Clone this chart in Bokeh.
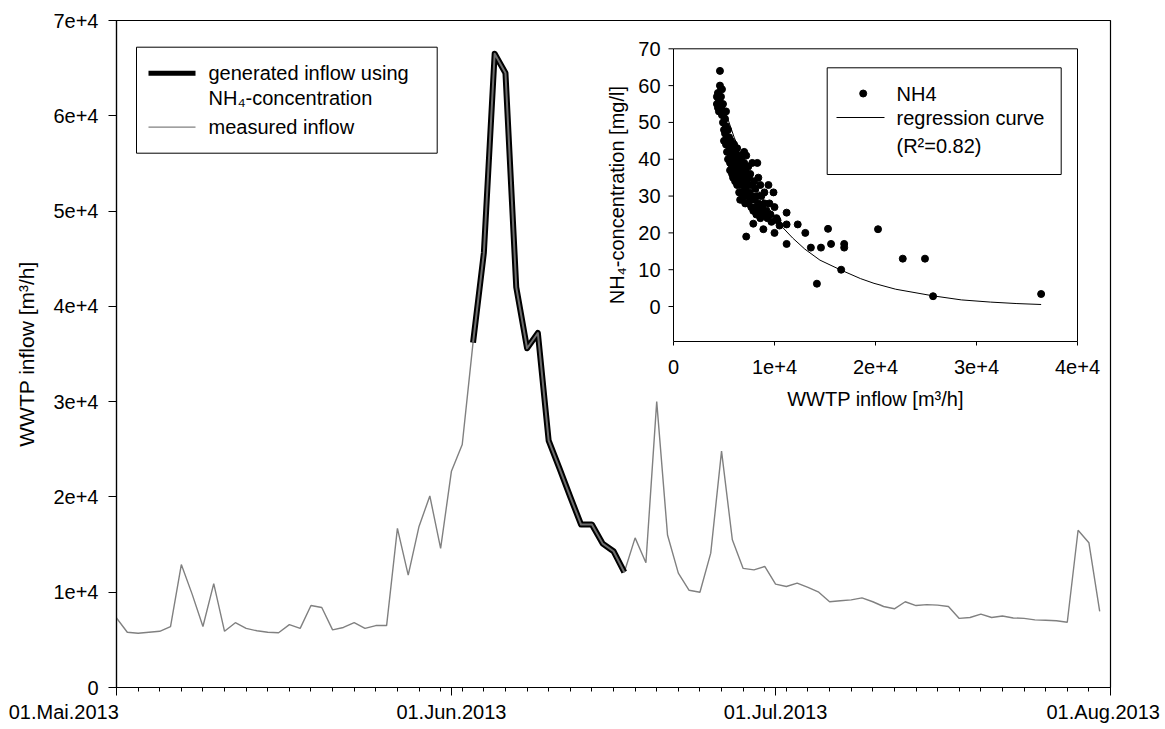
import numpy as np
import pandas as pd
from bokeh.plotting import figure
from bokeh.models import Range1d, FixedTicker
from bokeh.core.properties import value
from bokeh.embed import file_html
from bokeh.resources import INLINE

# ---------------- data ----------------
start_date = "2013-05-01"
# daily WWTP inflow [m3/h], 01.05.2013 - 31.07.2013
inflow = [7300, 5800, 5700, 5800, 5900, 6400, 12900, 9800, 6400, 10900,
          5900, 6800, 6200, 5950, 5800, 5750, 6600, 6200, 8600, 8400,
          6050, 6300, 6800, 6200, 6500, 6500, 16700, 11800, 16900, 20100,
          14600, 22700, 25500, 36200, 45600, 66500, 64500, 42000, 35600, 37200,
          25900, 23000, 20000, 17100, 17100, 15100, 14300, 12100, 15700, 13100,
          30000, 16000, 12000, 10200, 10000, 14100, 24800, 15500, 12500, 12350,
          12700, 10850, 10600, 10950, 10500, 10000, 9000, 9100, 9200, 9400,
          9000, 8500, 8260, 9000, 8600, 8700, 8650, 8500, 7250, 7350,
          7700, 7350, 7500, 7300, 7250, 7100, 7050, 7000, 6850, 16500,
          15200, 8000]
generated_start = "2013-06-03"
generated_end = "2013-06-17"

tick_dates = ["2013-05-01", "2013-06-01", "2013-07-01", "2013-08-01"]
tick_labels = ["01.Mai.2013", "01.Jun.2013", "01.Jul.2013", "01.Aug.2013"]
y_ticks = [0, 10000, 20000, 30000, 40000, 50000, 60000, 70000]
y_tick_labels = ["0", "1e+4", "2e+4", "3e+4", "4e+4", "5e+4", "6e+4", "7e+4"]

# inset scatter: WWTP inflow vs NH4 concentration
nh4_inflow = [4300, 4300, 4400, 4400, 4500, 4500, 4600, 4600, 4700, 4700, 4800, 4800, 4900, 4900,
              5000, 5000, 5000, 5100, 5100, 5200, 5200, 5200, 5300, 5300, 5400, 5400, 5400, 5500, 5500,
              5600, 5600, 5600, 5700, 5700, 5800, 5800, 5800, 5900, 5900, 6000, 6000, 6000, 6100, 6100, 6100,
              6200, 6200, 6300, 6300, 6300, 6400, 6400, 6500, 6500, 6500, 6600, 6600, 6600, 6700, 6700,
              6800, 6800, 6800, 6900, 6900, 7000, 7000, 7000, 7000, 7100, 7100, 7100, 7200, 7200, 7200, 7300, 7300,
              7400, 7400, 7400, 7500, 7500, 7600, 7600, 7700, 7700, 7800, 7800, 7900, 7900, 8000, 8000,
              8100, 8200, 8200, 8300, 8300, 8400, 8400, 8500, 8600, 8600, 8700, 8800, 8900, 8900, 9000, 9000,
              9200, 9300, 9400, 9500, 9600, 9700, 9900, 10000, 10000, 10200, 10300, 10500,
              11200, 11200, 11200, 12300, 13050, 13600, 14200, 14600, 15300, 15600, 16600, 16900, 16900,
              20250, 22700, 24900, 25700, 36400]
nh4_conc = [55, 57, 54, 58, 53, 56, 64, 60, 57, 54, 59, 52, 55, 50,
            53, 48, 45, 51, 47, 53, 49, 44, 46, 42, 48, 44, 40, 46, 42,
            43, 39, 37, 45, 41, 43, 38, 36, 41, 35, 44, 40, 37, 42, 38, 34,
            40, 36, 43, 39, 33, 37, 35, 41, 38, 31, 36, 33, 29, 40, 34,
            38, 31, 29, 36, 33, 42, 39, 35, 30, 37, 32, 28, 41, 34, 19, 36, 30,
            38, 33, 28, 35, 31, 36, 29, 33, 27, 39, 30, 22.5, 26, 34, 29,
            32, 27, 25, 39, 30, 35, 28, 26, 33, 24, 30, 27, 21, 25, 31, 28,
            26, 24, 33, 28, 25, 23, 31, 20, 27, 24, 23.4, 22,
            25.5, 22.3, 17, 22.3, 20, 16, 6.2, 16, 21.1, 17, 10, 17, 16,
            21, 13, 13, 2.8, 3.4]
# regression curve
reg_inflow = [4300, 5000, 6000, 7000, 8000, 9000, 10000, 10800, 11800, 13000, 14500,
              16500, 18500, 19850, 22000, 25700, 28500, 31400, 34000, 36400]
reg_conc = [60, 54, 46, 39.5, 33.5, 28.5, 24.3, 21.5, 18.6, 15.6, 12.6,
            10.0, 7.6, 6.3, 4.7, 2.9, 1.8, 1.2, 0.8, 0.55]
ins_x_ticks = [0, 10000, 20000, 30000, 40000]
ins_x_labels = ["0", "1e+4", "2e+4", "3e+4", "4e+4"]
ins_y_ticks = [0, 10, 20, 30, 40, 50, 60, 70]
ins_y_labels = ["0", "10", "20", "30", "40", "50", "60", "70"]

# ---------------- derived ----------------
d0 = pd.Timestamp(start_date)
dates = pd.date_range(start_date, periods=len(inflow), freq="D")
x_days = np.array([(d - d0).days for d in dates], dtype=float)
y_vals = np.array(inflow, dtype=float)
gs = (pd.Timestamp(generated_start) - d0).days
ge = (pd.Timestamp(generated_end) - d0).days
gmask = (x_days >= gs) & (x_days <= ge)
tick_days = [(pd.Timestamp(t) - d0).days for t in tick_dates]
minor_days = list(range(0, tick_days[-1] + 1, 2))

FONT = value("Liberation Sans")
NBSP = "\u00a0"
# right-padding (in no-break spaces) so that the outer date labels stay inside the page
label_pad = [19, 0, 0, 1]

# frame / inset geometry in pixels
FL, FR, FT, FB = 116, 1110, 20, 687
IL, IR, IT, IB = 673, 1077, 48.3, 341
ins_x0, ins_x1 = 0, 40000
ins_y0, ins_y1 = -9.5, 70
sxu = (ins_x1 - ins_x0) / (IR - IL)
syu = (ins_y1 - ins_y0) / (IB - IT)

p = figure(width=1165, height=729, title=None,
           x_range=Range1d(0, tick_days[-1]), y_range=Range1d(0, 70000),
           output_backend="svg", toolbar_location=None,
           min_border_left=FL, min_border_right=1165 - FR,
           min_border_top=FT, min_border_bottom=729 - FB)
p.extra_x_ranges = {"ix": Range1d(ins_x0 - (IL - FL) * sxu, ins_x1 + (FR - IR) * sxu),
                    "px": Range1d(FL, FR)}
p.extra_y_ranges = {"iy": Range1d(ins_y0 - (FB - IB) * syu, ins_y1 + (IT - FT) * syu),
                    "py": Range1d(FB, FT)}
p.background_fill_color = "white"
p.border_fill_color = "white"
p.xgrid.visible = False
p.ygrid.visible = False
p.outline_line_color = "black"
p.outline_line_width = 1.2

# y axis
p.yaxis.ticker = FixedTicker(ticks=y_ticks)
p.yaxis.major_label_overrides = {t: l for t, l in zip(y_ticks, y_tick_labels)}
p.yaxis.major_tick_out = 8
p.yaxis.major_tick_in = 0
p.yaxis.minor_tick_line_color = None
p.yaxis.major_label_standoff = 10
p.yaxis.major_label_text_font = "Liberation Sans"
p.yaxis.major_label_text_font_size = "20px"
p.yaxis.major_label_text_color = "black"
p.yaxis.axis_line_color = "black"
p.yaxis.axis_line_width = 1.2
p.yaxis.major_tick_line_color = "black"
p.yaxis.axis_label = "WWTP inflow [m³/h]"
p.yaxis.axis_label_text_font = "Liberation Sans"
p.yaxis.axis_label_text_font_size = "21px"
p.yaxis.axis_label_text_font_style = "normal"
p.yaxis.axis_label_text_color = "black"
p.yaxis.axis_label_standoff = 12

# x axis
p.xaxis.ticker = FixedTicker(ticks=tick_days, minor_ticks=minor_days)
p.xaxis.major_label_overrides = {t: l + NBSP * n for t, l, n in zip(tick_days, tick_labels, label_pad)}
p.xaxis.major_label_text_font = "Liberation Sans"
p.xaxis.major_label_text_font_size = "20px"
p.xaxis.major_label_text_color = "black"
p.xaxis.major_label_standoff = 5
p.xaxis.major_tick_out = 8
p.xaxis.major_tick_in = 0
p.xaxis.minor_tick_out = 4
p.xaxis.minor_tick_in = 0
p.xaxis.axis_line_color = "black"
p.xaxis.axis_line_width = 1.2
p.xaxis.major_tick_line_color = "black"
p.xaxis.minor_tick_line_color = "black"

# main series
p.line(x_days, y_vals, line_color="#808080", line_width=1.4)
p.line(x_days[gmask], y_vals[gmask], line_color="black", line_width=6, line_join="round")
p.line(x_days[gmask], y_vals[gmask], line_color="#6e6e6e", line_width=2, line_join="round")

# main legend (pixel coordinates)
LEG = dict(x_range_name="px", y_range_name="py")
p.quad(left=[136], right=[436.7], top=[46.7], bottom=[152.7], fill_color="white",
       line_color="black", line_width=1, **LEG)
p.line([148, 195], [72.7, 72.7], line_color="black", line_width=5, **LEG)
p.line([148, 195], [126.7, 126.7], line_color="#808080", line_width=1.2, **LEG)
p.text(x=[208, 208, 208], y=[72.7, 97.5, 126.7],
       text=["generated inflow using", "NH₄-concentration", "measured inflow"],
       text_baseline="middle", text_align="left", text_font=FONT,
       text_font_size=value("20px"), text_color="black", **LEG)

# ---------------- inset ----------------
INS = dict(x_range_name="ix", y_range_name="iy")
p.quad(left=[ins_x0], right=[ins_x1], bottom=[ins_y0], top=[ins_y1], fill_color="white",
       line_color="black", line_width=1, **INS)
p.ray(x=[ins_x0] * len(ins_y_ticks), y=ins_y_ticks, length=5, angle=np.pi,
      length_units="screen", line_color="black", line_width=1, **INS)
p.ray(x=ins_x_ticks, y=[ins_y0] * len(ins_x_ticks), length=4, angle=-np.pi / 2,
      length_units="screen", line_color="black", line_width=1, **INS)
p.text(x=[ins_x0] * len(ins_y_ticks), y=ins_y_ticks, text=ins_y_labels,
       x_offset=-13, text_align="right", text_baseline="middle", text_font=FONT,
       text_font_size=value("20px"), text_color="black", **INS)
p.text(x=ins_x_ticks, y=[ins_y0] * len(ins_x_ticks), text=ins_x_labels,
       y_offset=25, text_align="center", text_baseline="middle", text_font=FONT,
       text_font_size=value("20px"), text_color="black", **INS)
p.text(x=[(ins_x0 + ins_x1) / 2], y=[ins_y0], text=["WWTP inflow [m³/h]"],
       y_offset=57, text_align="center", text_baseline="middle", text_font=FONT,
       text_font_size=value("20px"), text_color="black", **INS)
p.text(x=[ins_x0], y=[(ins_y0 + ins_y1) / 2], text=["NH₄-concentration [mg/l]"],
       x_offset=-57, angle=np.pi / 2, text_align="center", text_baseline="middle",
       text_font=FONT, text_font_size=value("20px"), text_color="black", **INS)

p.line(reg_inflow, reg_conc, line_color="black", line_width=1, **INS)
p.scatter(nh4_inflow, nh4_conc, size=7, marker="circle", fill_color="black",
          line_color="black", **INS)

# inset legend (pixel coordinates)
p.quad(left=[826.7], right=[1060.7], top=[67.3], bottom=[174], fill_color="white",
       line_color="black", line_width=1, **LEG)
p.scatter([862.7], [93], size=7, marker="circle", fill_color="black", line_color="black", **LEG)
p.line([836, 884], [117, 117], line_color="black", line_width=1, **LEG)
p.text(x=[896, 896, 896], y=[93, 117, 145],
       text=["NH4", "regression curve", "(R²=0.82)"],
       text_baseline="middle", text_align="left", text_font=FONT,
       text_font_size=value("20px"), text_color="black", **LEG)

open("out.html", "w").write(file_html(p, INLINE))
